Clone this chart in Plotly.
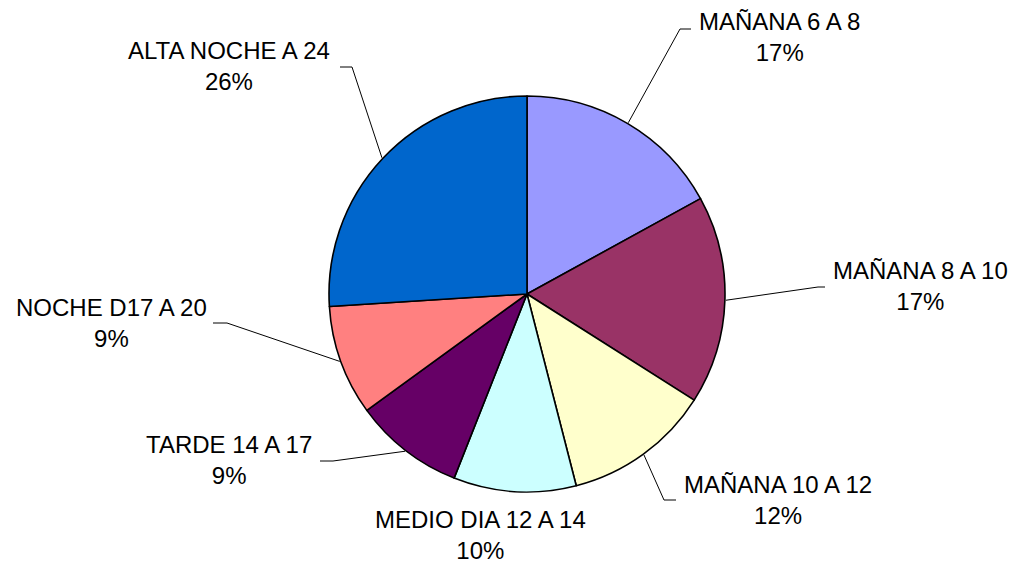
import math
import plotly.graph_objects as go

# ---- data ----
categories = ["MAÑANA 6 A 8", "MAÑANA 8 A 10", "MAÑANA 10 A 12", "MEDIO DIA 12 A 14",
              "TARDE 14 A 17", "NOCHE D17 A 20", "ALTA NOCHE A 24"]
values = [17, 17, 12, 10, 9, 9, 26]
colors = ["#9999FF", "#993366", "#FFFFCC", "#CCFFFF", "#660066", "#FF8080", "#0066CC"]

# ---- layout / style (pixels, in screen coordinates) ----
W, H = 1018, 564
OFF = 8  # page body margin offset
CX, CY, R = 527, 294, 198
label_pos = [(779, 37), (920, 286), (778, 500), (480, 535), (229, 460), (111, 323), (229, 66)]
# leader elbows: (elbow_x, elbow_y, end_x) ; None = no leader
leaders = [(680, 29, 691), (818, 287, 825), (664, 500, 676), None,
           (333, 461, 320), (227, 323, 213), (352, 67, 340)]

def px(x):
    return (x - OFF) / W

def py(y):
    return 1 - (y - OFF) / H

fig = go.Figure(go.Pie(
    labels=categories, values=values, sort=False, direction="clockwise", rotation=0,
    marker=dict(colors=colors, line=dict(color="black", width=1.6)),
    textinfo="none", hoverinfo="label+percent", showlegend=False,
    domain=dict(x=[px(CX - R), px(CX + R)], y=[py(CY + R), py(CY - R)]),
))

total = sum(values)
cum = 0
annotations = []
shapes = []
for i, (cat, v) in enumerate(zip(categories, values)):
    mid = (cum + v / 2) / total * 2 * math.pi
    cum += v
    pct = round(v / total * 100)
    lx, ly = label_pos[i]
    annotations.append(dict(
        x=px(lx), y=py(ly), xref="paper", yref="paper", showarrow=False,
        text=f"{cat}<br>{pct}%", xanchor="center", yanchor="middle", align="center",
        font=dict(family="Arial, Liberation Sans, sans-serif", size=24, color="black"),
    ))
    if leaders[i] is not None:
        ex, ey, endx = leaders[i]
        sx = CX + (R + 1) * math.sin(mid)
        sy = CY - (R + 1) * math.cos(mid)
        path = f"M {px(sx)} {py(sy)} L {px(ex)} {py(ey)} L {px(endx)} {py(ey)}"
        shapes.append(dict(type="path", xref="paper", yref="paper", path=path,
                           line=dict(color="black", width=1)))

fig.update_layout(
    width=W, height=H, margin=dict(l=0, r=0, t=0, b=0),
    paper_bgcolor="white", plot_bgcolor="white",
    annotations=annotations, shapes=shapes,
)

fig.write_html("out.html")
